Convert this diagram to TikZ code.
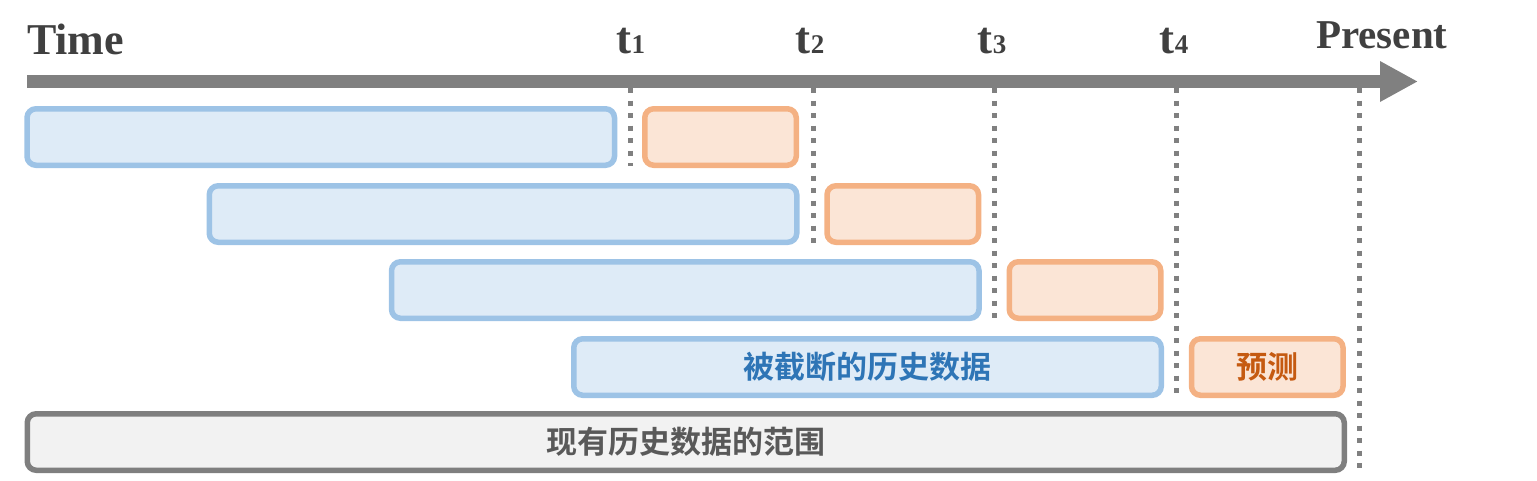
\documentclass[tikz,border=0pt]{standalone}
\usepackage{fontspec}
\setmainfont{Liberation Serif}
\newfontfamily\cjkbold{Noto Sans CJK SC Bold}
\usepackage{tikz}
\usetikzlibrary{arrows.meta}

\definecolor{axisgray}{HTML}{808080}
\definecolor{labelgray}{HTML}{404040}
\definecolor{histline}{HTML}{9DC3E6}
\definecolor{histfill}{HTML}{DEEBF7}
\definecolor{histtext}{HTML}{2E75B6}
\definecolor{predline}{HTML}{F4B183}
\definecolor{predfill}{HTML}{FBE5D6}
\definecolor{predtext}{HTML}{C55A11}
\definecolor{rangeline}{HTML}{7F7F7F}
\definecolor{rangefill}{HTML}{F2F2F2}
\definecolor{rangetext}{HTML}{595959}

\newcommand{\tlabel}[1]{{\fontsize{45}{45}\selectfont t}{\fontsize{27}{27}\selectfont #1}}

\begin{document}
\begin{tikzpicture}[x=1pt,y=-1pt,
  box/.style={rectangle,rounded corners=9pt,line width=5.5pt,inner sep=0pt,
    minimum height=56.5pt},
  histbox/.style={box,draw=histline,fill=histfill,minimum width=587.5pt,
    text=histtext,font=\cjkbold\fontsize{31}{31}\selectfont},
  predbox/.style={box,draw=predline,fill=predfill,minimum width=151.5pt,
    text=predtext,font=\cjkbold\fontsize{31}{31}\selectfont},
  rangebox/.style={box,draw=rangeline,fill=rangefill,minimum width=1317pt,
    text=rangetext,font=\cjkbold\fontsize{31}{31}\selectfont},
  timelabel/.style={text=labelgray,inner sep=0pt,font=\bfseries\fontsize{41}{41}\selectfont},
  dotline/.style={draw=axisgray,line width=5pt,dash pattern=on 5pt off 7.5pt}]

\useasboundingbox (0,0) rectangle (1537,480);

%% time axis
\coordinate (start) at (27,81.5);
\coordinate (end) at (1418,81.5);
\draw[axisgray,line width=13pt,-{Triangle[length=38pt,width=38pt]}] (start) -- (end);

\node[timelabel,anchor=base west,font=\bfseries\fontsize{44}{44}\selectfont] (time) at (27,54) {Time};
\node[timelabel,anchor=base west] (present) at (1316,48) {Present};
\node[timelabel,anchor=base] (l1) at (631,53) {\tlabel{1}};
\node[timelabel,anchor=base] (l2) at (810,53) {\tlabel{2}};
\node[timelabel,anchor=base] (l3) at (992,53) {\tlabel{3}};
\node[timelabel,anchor=base] (l4) at (1174,53) {\tlabel{4}};

%% history windows and predictions
\node[histbox] (h1) at (320.75,137) {};
\node[predbox] (p1) at (720.5,137) {};
\node[histbox] (h2) at (503,214) {};
\node[predbox] (p2) at (902.75,214) {};
\node[histbox] (h3) at (685.25,290) {};
\node[predbox] (p3) at (1085,290) {};
\node[histbox] (h4) at (867.5,367) {被截断的历史数据};
\node[predbox] (p4) at (1267.25,367) {预测};
\node[rangebox] (range) at (685.75,442) {现有历史数据的范围};

%% cut lines
\coordinate (t1) at (630,88);   \coordinate (t1b) at (630,166);
\coordinate (t2) at (813,88);   \coordinate (t2b) at (813,243);
\coordinate (t3) at (994,88);   \coordinate (t3b) at (994,319);
\coordinate (t4) at (1176,88);  \coordinate (t4b) at (1176,396);
\coordinate (t5) at (1359,88);  \coordinate (t5b) at (1359,470);

\draw[dotline] (t1) -- (t1b);
\draw[dotline] (t2) -- (t2b);
\draw[dotline] (t3) -- (t3b);
\draw[dotline] (t4) -- (t4b);
\draw[dotline] (t5) -- (t5b);

\end{tikzpicture}
\end{document}
